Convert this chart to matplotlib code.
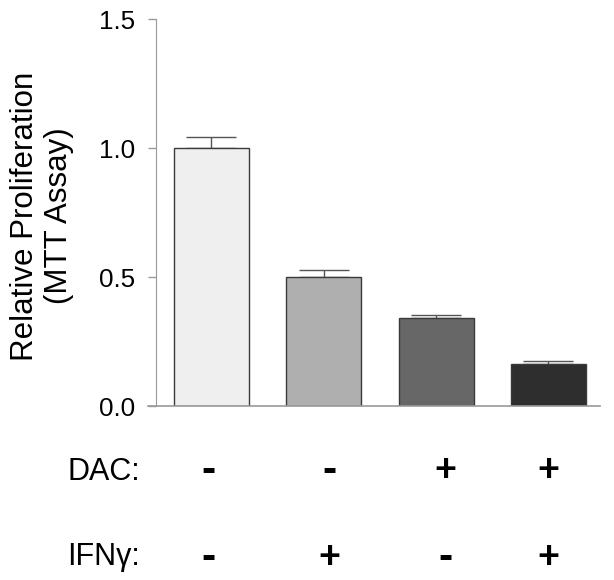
import matplotlib
matplotlib.use("Agg")
import matplotlib.pyplot as plt
from matplotlib.lines import Line2D

plt.rcParams['font.family'] = ['Liberation Sans', 'DejaVu Sans']

values = [1.0, 0.499, 0.341, 0.162]
errors = [0.043, 0.028, 0.010, 0.012]
bar_colors = ['#efefef', '#afafaf', '#676767', '#2e2e2e']
dac = ['-', '-', '+', '+']
ifng = ['-', '+', '-', '+']
yticks = [0.0, 0.5, 1.0, 1.5]
sign_x = [-0.03, 1.05, 2.08, 3.0]   # label positions (data units)
sign_size = {'+': 27, '-': 31}

fig = plt.figure(figsize=(6.14, 5.80), dpi=100)
ax = fig.add_axes([0.2536, 0.30, 0.977 - 0.2536, 0.9672 - 0.30])

x = list(range(len(values)))
ax.bar(x, values, width=0.667, color=bar_colors, edgecolor='#3a3a3a', linewidth=1.0, zorder=2)
ax.errorbar(x, values, yerr=[[0]*len(errors), errors], fmt='none', ecolor='#555555',
            elinewidth=1.0, capsize=18, capthick=1.0, zorder=1)

ax.set_xlim(-0.496, 3.458)
ax.set_ylim(0, 1.5)
ax.set_yticks(yticks)
ax.set_yticklabels(['%.1f' % v for v in yticks], fontsize=18.7)
ax.set_xticks([])
for s in ['top', 'right']:
    ax.spines[s].set_visible(False)
ax.spines['left'].set_color('#999999')
ax.spines['bottom'].set_visible(False)
ax.tick_params(axis='y', length=6, width=1, color='#999999', pad=8.5)
ax.add_line(Line2D([-0.018, 1.0], [0, 0], transform=ax.transAxes, color='#999999',
                   linewidth=1.2, clip_on=False, zorder=3))

fig.text(42/614, 1 - 216/580, 'Relative Proliferation\n(MTT Assay)', fontsize=22.5,
         rotation=90, ha='center', va='center', multialignment='center', linespacing=1.15)

# Row labels
fig.text(67/614, 1 - 480/580, 'DAC:', fontsize=22, ha='left', va='baseline')
fig.text(67/614, 1 - 565/580, 'IFN\u03b3:', fontsize=22, ha='left', va='baseline')
for i in x:
    ax.annotate(dac[i], xy=(sign_x[i], 0), xycoords=('data', 'axes fraction'),
                xytext=(0, -(471 - 406)), textcoords='offset pixels',
                ha='center', va='center', fontsize=sign_size[dac[i]], fontweight='bold')
    ax.annotate(ifng[i], xy=(sign_x[i], 0), xycoords=('data', 'axes fraction'),
                xytext=(0, -(558 - 406)), textcoords='offset pixels',
                ha='center', va='center', fontsize=sign_size[ifng[i]], fontweight='bold')

fig.savefig('out.png', dpi=100)
